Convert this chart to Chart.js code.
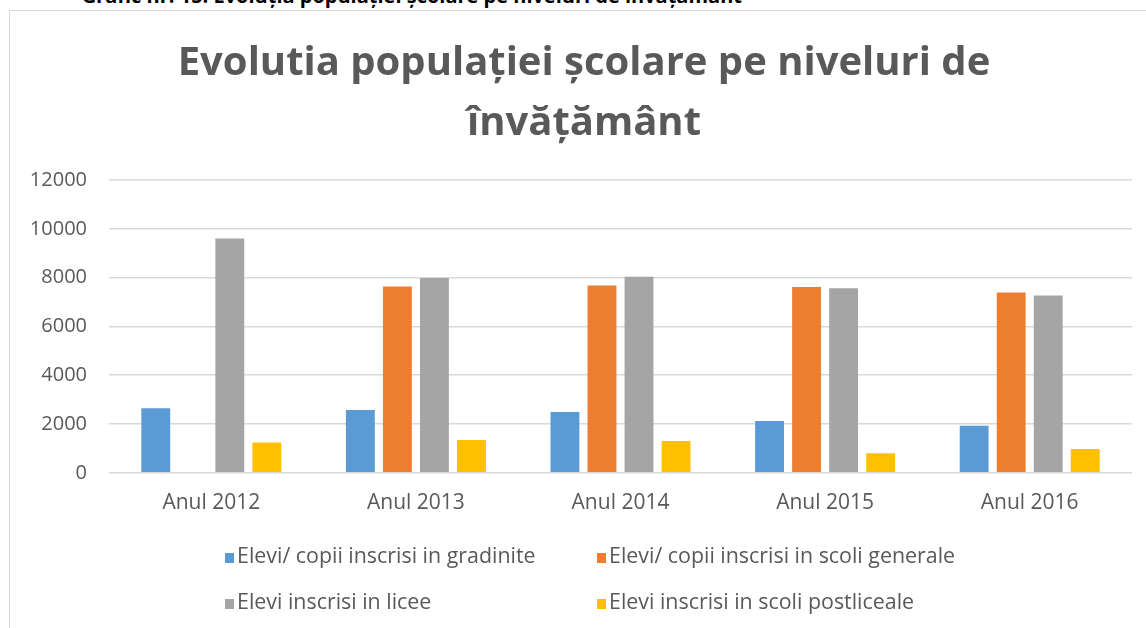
<!DOCTYPE html>
<html>
<head>
<meta charset="utf-8">
<script src="https://cdn.jsdelivr.net/npm/chart.js@4/dist/chart.umd.min.js"></script>
<style>
  html, body { margin: 0; padding: 0; background: #fff; overflow: hidden; }
  #wrap { position: relative; width: 1146px; height: 628px; }
  #caption {
    position: absolute; top: -18px; right: calc(100% - 742px);
    white-space: nowrap; font: bold 20px "Open Sans", sans-serif; color: #000;
  }
  #frame {
    position: absolute; left: 9px; top: 10px; width: 1150px; height: 640px;
    border: 1.5px solid #d9d9d9; box-sizing: border-box;
  }
  canvas { position: absolute; left: 0; top: 0; }
  .leg { position: absolute; font: 21.4px "Open Sans", sans-serif; color: #595959; white-space: nowrap; line-height: 24px; }
  .leg span { display: inline-block; width: 9px; height: 10px; margin-right: 3px; vertical-align: 0px; }
</style>
</head>
<body>
<div id="wrap">
  <div id="caption">Grafic nr. 15. Evoluția populației școlare pe niveluri de învățământ</div>
  <div id="frame"></div>
  <canvas id="myChart" width="1146" height="628"></canvas>
  <div id="legend"></div>
</div>
<script>
var years = ["Anul 2012", "Anul 2013", "Anul 2014", "Anul 2015", "Anul 2016"];
var gradinite = [2650, 2570, 2490, 2120, 1930];
var scoliGenerale = [null, 7640, 7680, 7610, 7390];
var licee = [9600, 7980, 8030, 7560, 7270];
var postliceale = [1240, 1340, 1300, 800, 980];
var seriesNames = [
    "Elevi/ copii inscrisi in gradinite",
    "Elevi/ copii inscrisi in scoli generale",
    "Elevi inscrisi in licee",
    "Elevi inscrisi in scoli postliceale"
];
var colors = ['#5B9BD5', '#ED7D31', '#A5A5A5', '#FFC000'];

var allData = [gradinite, scoliGenerale, licee, postliceale];
var datasets = allData.map(function (d, i) {
    return {
        label: seriesNames[i],
        data: d,
        backgroundColor: colors[i],
        borderWidth: 0,
        categoryPercentage: 0.724,
        barPercentage: 0.78
    };
});

var ctx = document.getElementById("myChart");
new Chart(ctx, {
    type: 'bar',
    data: { labels: years, datasets: datasets },
    options: {
        responsive: false,
        animation: false,
        layout: { padding: { top: 34, left: 24, right: 2, bottom: 94 } },
        plugins: {
            legend: { display: false },
            tooltip: { enabled: false },
            title: {
                display: true,
                text: ['Evolutia populației școlare pe niveluri de', 'învățământ'],
                color: '#595959',
                font: { family: "'Open Sans', sans-serif", size: 40, weight: 'bold', lineHeight: 1.5 },
                padding: { top: 0, bottom: 26 }
            }
        },
        scales: {
            x: {
                grid: { display: false, drawTicks: false },
                border: { display: false },
                ticks: { color: '#595959', padding: 18, font: { family: "'Open Sans', sans-serif", size: 21 } }
            },
            y: {
                min: 0, max: 12000,
                afterFit: function (scale) { scale.width = 85; },
                ticks: {
                    stepSize: 2000, color: '#595959', padding: 22,
                    font: { family: "'Open Sans', sans-serif", size: 20 },
                    callback: function (v) { return String(v); }
                },
                grid: { color: '#d9d9d9', lineWidth: 1.5, drawTicks: false },
                border: { display: false }
            },
            // empty right-side box so the title centres on the frame like the original
            spacer: {
                position: 'right',
                grid: { display: false, drawTicks: false },
                border: { display: false },
                ticks: { display: false },
                afterFit: function (scale) { scale.width = 12; }
            }
        }
    }
});

// legend in a 2x2 grid like the original
var legendPos = [[225, 543], [597, 543], [225, 589], [597, 589]];
var legendHtml = '';
seriesNames.forEach(function (name, i) {
    legendHtml += '<div class="leg" style="left:' + legendPos[i][0] + 'px;top:' + legendPos[i][1] + 'px">' +
        '<span style="background:' + colors[i] + '"></span>' + name + '</div>';
});
document.getElementById('legend').innerHTML = legendHtml;
</script>
</body>
</html>
